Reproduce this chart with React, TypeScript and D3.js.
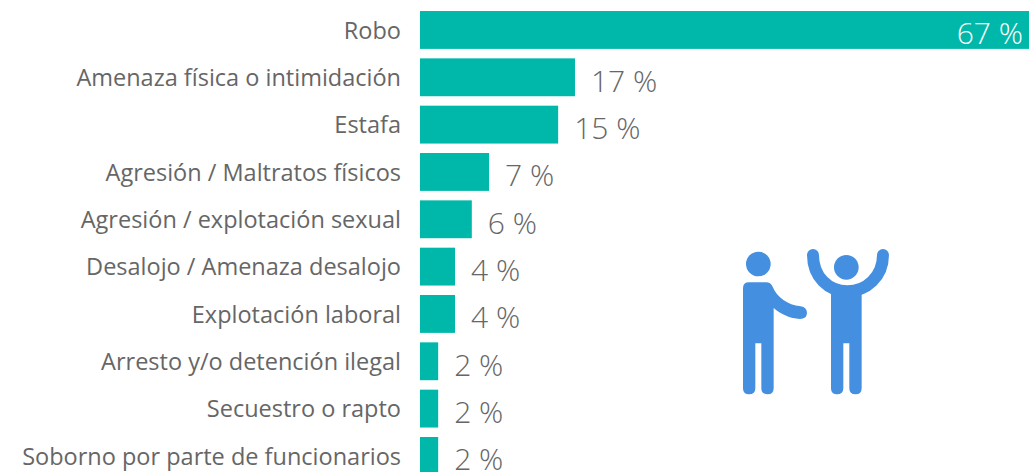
import { useRef, useEffect } from "react"
import * as d3 from "d3"

const categories = [
  "Robo",
  "Amenaza física o intimidación",
  "Estafa",
  "Agresión / Maltratos físicos",
  "Agresión / explotación sexual",
  "Desalojo / Amenaza desalojo",
  "Explotación laboral",
  "Arresto y/o detención ilegal",
  "Secuestro o rapto",
  "Soborno por parte de funcionarios",
]
// bar lengths, labels are the rounded values
const values = [67, 17.05, 15.2, 7.6, 5.7, 3.85, 3.85, 2, 2, 2]
const valueLabels = ["67 %", "17 %", "15 %", "7 %", "6 %", "4 %", "4 %", "2 %", "2 %", "2 %"]

const BAR_COLOR = "#00B8A9"
const TEXT_COLOR = "#666666"
const ICON_COLOR = "#458FE0"
const FONT = "'Open Sans', sans-serif"

const App = () => {
  const svgRef = useRef<SVGSVGElement>(null)

  useEffect(() => {
    const svg = d3.select(svgRef.current)
    svg.selectAll("*").remove()

    const x = d3.scaleLinear().domain([0, 67]).range([420, 1029])
    const y = d3
      .scaleBand()
      .domain(categories)
      .range([6.3, 479.6])
      .paddingInner(0.2)
      .paddingOuter(0.1)

    // Bars
    svg
      .selectAll(".bar")
      .data(categories)
      .enter()
      .append("rect")
      .attr("class", "bar")
      .attr("x", x(0))
      .attr("y", (d) => y(d))
      .attr("width", (d, i) => x(values[i]) - x(0))
      .attr("height", y.bandwidth())
      .attr("fill", BAR_COLOR)

    // Category labels
    svg
      .selectAll(".cat")
      .data(categories)
      .enter()
      .append("text")
      .attr("class", "cat")
      .attr("x", 401)
      .attr("y", (d) => y(d) + y.bandwidth() / 2 + 0.6)
      .attr("dy", "0.35em")
      .attr("text-anchor", "end")
      .attr("font-family", FONT)
      .attr("font-size", 23.5)
      .attr("fill", TEXT_COLOR)
      .text((d) => d)

    // Value labels
    svg
      .selectAll(".val")
      .data(categories)
      .enter()
      .append("text")
      .attr("class", "val")
      .attr("x", (d, i) => (i === 0 ? 1023 : x(values[i]) + 16))
      .attr("y", (d) => y(d) + y.bandwidth() / 2 + 4.6)
      .attr("dy", "0.33em")
      .attr("text-anchor", (d, i) => (i === 0 ? "end" : "start"))
      .attr("font-family", FONT)
      .attr("font-size", 30)
      .attr("font-weight", 300)
      .attr("fill", (d, i) => (i === 0 ? "#ffffff" : TEXT_COLOR))
      .text((d, i) => valueLabels[i])

    // Icon, drawn in its own 170x170 box
    const icon = svg.append("g").attr("transform", "translate(730,235) scale(0.3333)").attr("fill", ICON_COLOR)
    icon.append("circle").attr("cx", 85).attr("cy", 87).attr("r", 37)
    icon
      .append("path")
      .attr(
        "d",
        "M39 160 Q39 142 57 142 L108 142 Q122 142 128 155 C142 188 172 209 212 214 Q231 217 231 234 Q230 252 210 252 C180 250 152 238 131 219 L131 460 Q131 478 113 478 Q94 478 94 460 L94 325 L76 325 L76 460 Q76 478 57 478 Q39 478 39 460 Z",
      )
    icon.append("circle").attr("cx", 349).attr("cy", 97).attr("r", 37)
    icon
      .append("path")
      .attr("d", "M249 60 C249 125 295 169 352 169 C409 169 459 125 459 60")
      .attr("fill", "none")
      .attr("stroke", ICON_COLOR)
      .attr("stroke-width", 36)
      .attr("stroke-linecap", "round")
    icon
      .append("path")
      .attr(
        "d",
        "M303 165 L395 165 L395 460 Q395 478 377 478 Q358 478 358 460 L358 325 L340 325 L340 460 Q340 478 321 478 Q303 478 303 460 Z",
      )
  }, [])

  return (
    <svg
      ref={svgRef}
      width={1029}
      height={472}
      style={{ position: "absolute", left: 0, top: 0 }}
    ></svg>
  )
}

export default App
